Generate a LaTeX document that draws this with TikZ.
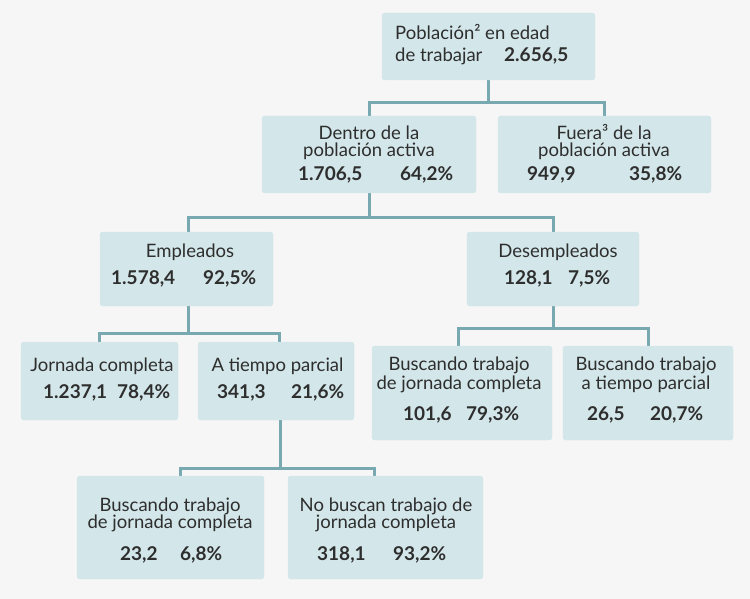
\documentclass[tikz,border=0pt]{standalone}
\usepackage{fontspec}
\setmainfont{Lato}
\definecolor{bg}{HTML}{F6F6F6}
\definecolor{boxfill}{HTML}{D3E6E9}
\definecolor{conncol}{HTML}{78A9B0}
\definecolor{txt}{HTML}{2E2E2E}
\begin{document}
\begin{tikzpicture}[x=1pt,y=-1pt,
  box/.style={fill=boxfill, rounded corners=3pt, inner sep=0pt, draw=none},
  conn/.style={draw=conncol, line width=3pt},
  lbl/.style={anchor=base, inner sep=0pt, text=txt, font=\fontsize{18.5}{20}\selectfont},
  lblw/.style={anchor=base west, inner sep=0pt, text=txt, font=\fontsize{18.5}{20}\selectfont},
  num/.style={anchor=base west, inner sep=0pt, text=txt, font=\fontsize{19}{21}\selectfont\bfseries}]
\fill[bg] (0,0) rectangle (750,599);
\useasboundingbox (0,0) rectangle (750,599);
\node[box, minimum width=213pt, minimum height=67pt] (root) at (488.5,46.5) {};
\node[box, minimum width=214pt, minimum height=77pt] (dentro) at (369,154.5) {};
\node[box, minimum width=213pt, minimum height=77pt] (fuera) at (604.5,154.5) {};
\node[box, minimum width=173pt, minimum height=74pt] (emp) at (186.5,269) {};
\node[box, minimum width=172pt, minimum height=74pt] (desemp) at (553,269) {};
\node[box, minimum width=157pt, minimum height=78pt] (jc) at (99.5,381) {};
\node[box, minimum width=156pt, minimum height=78pt] (tp) at (276,381) {};
\node[box, minimum width=180pt, minimum height=94pt] (bjc) at (462,393) {};
\node[box, minimum width=170pt, minimum height=94pt] (btp) at (648,393) {};
\node[box, minimum width=187pt, minimum height=103pt] (bl) at (170.5,527.5) {};
\node[box, minimum width=195pt, minimum height=103pt] (nb) at (385.5,527.5) {};

\coordinate (h1) at (0,103);
\coordinate (h2) at (0,217);
\coordinate (h3) at (0,333);
\coordinate (h4) at (0,328);
\coordinate (h5) at (0,468);
\draw[conn] (root.south) -- (root.south |- h1);
\draw[conn] (dentro.north) |- (h1 -| fuera.north) -- (fuera.north);
\draw[conn] (dentro.south) -- (dentro.south |- h2);
\draw[conn] ([xshift=1.5pt]emp.north) |- (h2 -| desemp.north) -- (desemp.north);
\draw[conn] ([xshift=1.5pt]emp.south) -- ([xshift=1.5pt]emp.south |- h3);
\draw[conn] (jc.north) |- ([xshift=3pt]tp.north |- h3) -- ([xshift=3pt]tp.north);
\draw[conn] (desemp.south) -- (desemp.south |- h4);
\draw[conn] ([xshift=-4pt]bjc.north) |- (h4 -| btp.north) -- (btp.north);
\draw[conn] ([xshift=4pt]tp.south) -- ([xshift=4pt]tp.south |- h5);
\draw[conn] ([xshift=9.5pt]bl.north) |- ([xshift=-11.5pt]nb.north |- h5) -- ([xshift=-11.5pt]nb.north);
% redraw boxes over connector ends
\foreach \n in {root,dentro,fuera,emp,desemp,jc,tp,bjc,btp,bl,nb}
  \fill[boxfill, rounded corners=3pt] (\n.north west) rectangle (\n.south east);

% root
\node[lblw] (t1) at (395,40) {Población² en edad};
\node[lblw] (t2) at (395,62) {de trabajar};
\node[num] (n1) at (504,62) {2.656,5};
% dentro
\node[lbl] (t3) at (369,140) {Dentro de la};
\node[lbl] (t4) at (369,157) {población activa};
\node[num] (n2) at (298,180) {1.706,5};
\node[num] (n3) at (400,180) {64,2\%};
% fuera
\node[lbl] (t5) at (604,140) {Fuera³ de la};
\node[lbl] (t6) at (604,157) {población activa};
\node[num] (n4) at (527,180) {949,9};
\node[num] (n5) at (629,180) {35,8\%};
% empleados
\node[lbl] (t7) at (190,257) {Empleados};
\node[num] (n6) at (111,284) {1.578,4};
\node[num] (n7) at (203,284) {92,5\%};
% desempleados
\node[lbl] (t8) at (558,257) {Desempleados};
\node[num] (n8) at (504,284) {128,1};
\node[num] (n9) at (568,284) {7,5\%};
% jornada completa
\node[lbl] (t9) at (102,371) {Jornada completa};
\node[num] (n10) at (43,398) {1.237,1};
\node[num] (n11) at (117,398) {78,4\%};
% a tiempo parcial
\node[lbl] (t10) at (277.5,371) {A tiempo parcial};
\node[num] (n12) at (217,398) {341,3};
\node[num] (n13) at (291,398) {21,6\%};
% buscando jc (desemp)
\node[lbl] (t11) at (459,370) {Buscando trabajo};
\node[lbl] (t12) at (459,389) {de jornada completa};
\node[num] (n14) at (403,420) {101,6};
\node[num] (n15) at (466,420) {79,3\%};
% buscando tp
\node[lbl] (t13) at (646,370) {Buscando trabajo};
\node[lbl] (t14) at (646,389) {a tiempo parcial};
\node[num] (n16) at (587,420) {26,5};
\node[num] (n17) at (650,420) {20,7\%};
% bottom left
\node[lbl] (t15) at (170,511) {Buscando trabajo};
\node[lbl] (t16) at (170,528) {de jornada completa};
\node[num] (n18) at (120,560) {23,2};
\node[num] (n19) at (180,560) {6,8\%};
% no buscan
\node[lbl] (t17) at (386,511) {No buscan trabajo de};
\node[lbl] (t18) at (386,528) {jornada completa};
\node[num] (n20) at (317,560) {318,1};
\node[num] (n21) at (393,560) {93,2\%};
\end{tikzpicture}
\end{document}
